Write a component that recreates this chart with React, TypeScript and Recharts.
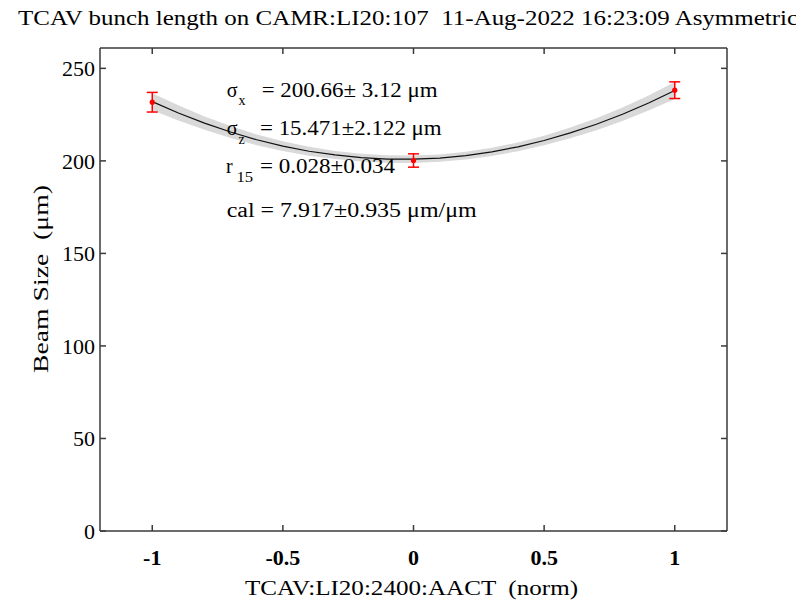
import { ComposedChart, XAxis, YAxis, Area, Line, Scatter, ErrorBar } from "recharts";

// fitted bunch-length curve and its confidence band
const fitX = [-1, -0.9, -0.8, -0.7, -0.6, -0.5, -0.4, -0.3, -0.2, -0.1, 0, 0.1, 0.2, 0.3, 0.4, 0.5, 0.6, 0.7, 0.8, 0.9, 1];
const fitY = [232.0, 225.9, 220.4, 215.6, 211.4, 208.0, 205.2, 203.2, 201.8, 201.0, 200.9, 201.5, 202.8, 204.9, 207.6, 211.0, 215.1, 219.8, 225.2, 231.3, 238.0];
const bandHalf = [4.6, 4.1, 3.6, 3.2, 2.9, 2.6, 2.4, 2.2, 2.1, 2.0, 2.0, 2.0, 2.1, 2.2, 2.4, 2.6, 2.9, 3.2, 3.6, 4.1, 4.6];

// measured beam sizes
const pointX = [-1, 0, 1];
const pointY = [231.7, 200.2, 238.2];
const pointErr = [5.3, 3.6, 4.5];

const xTicks = [-1, -0.5, 0, 0.5, 1];
const yTicks = [0, 50, 100, 150, 200, 250];

const fitRows = fitX.map((x, i) => ({
  x,
  fit: fitY[i],
  band: [fitY[i] - bandHalf[i], fitY[i] + bandHalf[i]],
}));
const pointRows = pointX.map((x, i) => ({ x, y: pointY[i], err: pointErr[i] }));

const AXIS = "#3a3a3a";
const SERIF = '"Liberation Serif", "Times New Roman", serif';

function BottomTick({ x, y, payload }: any) {
  return (
    <g>
      <line x1={x} x2={x} y1={y} y2={y - 6} stroke={AXIS} strokeWidth={1.5} />
      <text x={x} y={y + 34} textAnchor="middle" fontSize={22} fontWeight="bold" style={{ fontFamily: SERIF }} fill="#000">
        {String(payload.value)}
      </text>
    </g>
  );
}

function TopTick({ x, y }: any) {
  return <line x1={x} x2={x} y1={y} y2={y + 6} stroke={AXIS} strokeWidth={1.5} />;
}

function LeftTick({ x, y, payload }: any) {
  return (
    <g>
      <line x1={x} x2={x + 6} y1={y} y2={y} stroke={AXIS} strokeWidth={1.5} />
      <text x={x - 5} y={y + 8} textAnchor="end" fontSize={22} style={{ fontFamily: SERIF }} fill="#000">
        {String(payload.value)}
      </text>
    </g>
  );
}

function RightTick({ x, y }: any) {
  return <line x1={x} x2={x - 6} y1={y} y2={y} stroke={AXIS} strokeWidth={1.5} />;
}

const axisLine = { stroke: AXIS, strokeWidth: 1.5 };

export default function App() {
  return (
    <div style={{ position: "absolute", left: 0, top: 0, width: 796, height: 600, background: "#fff" }}>
      <ComposedChart
        width={796}
        height={600}
        data={fitRows}
        margin={{ top: 47, right: 68, bottom: 0, left: 0 }}
      >
        <XAxis
          xAxisId="b"
          type="number"
          dataKey="x"
          domain={[-1.2, 1.2]}
          ticks={xTicks}
          interval={0}
          height={69}
          tickSize={0}
          tickMargin={0}
          tickLine={false}
          axisLine={axisLine}
          tick={<BottomTick />}
          allowDataOverflow
        />
        <XAxis
          xAxisId="t"
          orientation="top"
          type="number"
          dataKey="x"
          domain={[-1.2, 1.2]}
          ticks={xTicks}
          interval={0}
          height={1}
          tickSize={0}
          tickMargin={0}
          tickLine={false}
          axisLine={axisLine}
          tick={<TopTick />}
          allowDataOverflow
        />
        <YAxis
          yAxisId="l"
          type="number"
          domain={[0, 261]}
          ticks={yTicks}
          interval={0}
          width={100}
          tickSize={0}
          tickMargin={0}
          tickLine={false}
          axisLine={axisLine}
          tick={<LeftTick />}
          allowDataOverflow
        />
        <YAxis
          yAxisId="r"
          orientation="right"
          type="number"
          domain={[0, 261]}
          ticks={yTicks}
          interval={0}
          width={1}
          tickSize={0}
          tickMargin={0}
          tickLine={false}
          axisLine={axisLine}
          tick={<RightTick />}
          allowDataOverflow
        />
        <Area
          xAxisId="b"
          yAxisId="l"
          type="linear"
          dataKey="band"
          stroke="none"
          fill="#d9d9d9"
          fillOpacity={1}
          isAnimationActive={false}
        />
        <Line
          xAxisId="b"
          yAxisId="l"
          type="linear"
          dataKey="fit"
          stroke="#111"
          strokeWidth={1.2}
          dot={false}
          isAnimationActive={false}
        />
        <Scatter
          xAxisId="b"
          yAxisId="l"
          data={pointRows}
          dataKey="y"
          fill="#ff0000"
          shape={(p: any) => <circle cx={p.cx} cy={p.cy} r={2.6} fill="#ff0000" />}
          isAnimationActive={false}
        >
          <ErrorBar dataKey="err" direction="y" width={5.5} stroke="#ff0000" strokeWidth={1.5} isAnimationActive={false} />
        </Scatter>
      </ComposedChart>

      <svg
        width={796}
        height={600}
        style={{ position: "absolute", left: 0, top: 0, pointerEvents: "none", fontFamily: SERIF }}
        fill="#000"
      >
        <text x={18} y={25} fontSize={22} textLength={780} lengthAdjust="spacingAndGlyphs" style={{ whiteSpace: "pre" }}>
          TCAV bunch length on CAMR:LI20:107  11-Aug-2022 16:23:09 Asymmetric
        </text>

        <text x={226.7} y={96.7} fontSize={20}>σ</text>
        <text x={238.5} y={105} fontSize={14}>x</text>
        <text x={261.7} y={96.7} fontSize={20} textLength={176} lengthAdjust="spacingAndGlyphs" style={{ whiteSpace: "pre" }}>
          = 200.66± 3.12 μm
        </text>

        <text x={226.7} y={135} fontSize={20}>σ</text>
        <text x={238.5} y={144} fontSize={14}>z</text>
        <text x={260} y={135} fontSize={20} textLength={181.7} lengthAdjust="spacingAndGlyphs">
          = 15.471±2.122 μm
        </text>

        <text x={226} y={173.3} fontSize={20}>r</text>
        <text x={236.5} y={181.7} fontSize={14} textLength={16.7} lengthAdjust="spacingAndGlyphs">15</text>
        <text x={260} y={173.3} fontSize={20} textLength={135} lengthAdjust="spacingAndGlyphs">
          = 0.028±0.034
        </text>

        <text x={226.7} y={216.7} fontSize={20} textLength={250} lengthAdjust="spacingAndGlyphs">
          cal = 7.917±0.935 μm/μm
        </text>

        <text x={245} y={595} fontSize={22} textLength={333} lengthAdjust="spacingAndGlyphs" style={{ whiteSpace: "pre" }}>
          TCAV:LI20:2400:AACT  (norm)
        </text>

        <text
          x={48}
          y={373}
          fontSize={22}
          textLength={188}
          lengthAdjust="spacingAndGlyphs"
          transform="rotate(-90, 48, 373)"
          style={{ whiteSpace: "pre" }}
        >
          Beam Size  (μm)
        </text>
      </svg>
    </div>
  );
}
